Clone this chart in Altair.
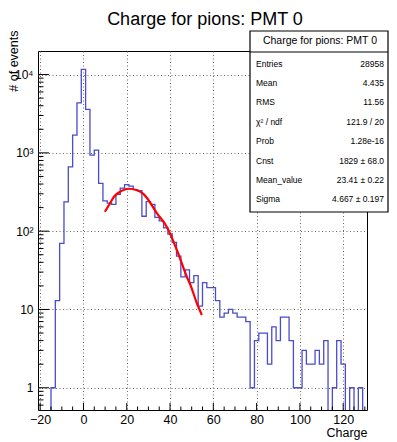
import altair as alt
import pandas as pd

# ---- data ----
bin_centers = list(range(-20, 131, 2))          # bins of width 2, edges at odd numbers
counts = [0, 0, 0, 1, 13, 70, 237, 664, 1690, 4360, 11650, 3600, 937, 1086, 408, 244,
          228, 220, 295, 355, 392, 375, 340, 330, 155, 238, 220, 150, 135, 110, 92, 72, 48,
          26, 32, 22, 27, 11, 22, 19, 19, 13, 8, 9, 10, 9, 8, 8, 7, 1,
          4, 5, 5, 2, 6, 4, 8, 8, 4, 1, 1,
          3, 2, 2, 3, 2, 4, 0, 1, 4, 2, 0, 1, 0, 1, 0]

fit_x = [9.9, 12.6, 14.1, 16.4, 21.0, 24.8, 27.9, 34.0, 38.6, 43.2, 47.8, 49.3, 52.4, 54.7]
fit_y = [177, 235, 275, 312, 348, 333, 295, 169, 112, 57, 26, 21, 12, 8.5]

x_major = [-20, 0, 20, 40, 60, 80, 100, 120]
x_minor = [-15, -10, -5, 5, 10, 15, 25, 30, 35, 45, 50, 55, 65, 70, 75, 85, 90, 95,
           105, 110, 115, 125, 130]
y_major = [1, 10, 100, 1000, 10000]
y_minor = [0.6, 0.7, 0.8, 0.9,
           2, 3, 4, 5, 6, 7, 8, 9,
           20, 30, 40, 50, 60, 70, 80, 90,
           200, 300, 400, 500, 600, 700, 800, 900,
           2000, 3000, 4000, 5000, 6000, 7000, 8000, 9000]

stat_labels = ["Entries", "Mean", "RMS", "χ² / ndf", "Prob", "Cnst", "Mean_value", "Sigma"]
stat_values = ["28958", "4.435", "11.56", "121.9 / 20", "1.28e-16",
               "1829  ± 68.0", "23.41  ± 0.22", "4.667  ± 0.197"]
hist_title = "Charge for pions: PMT 0"

# ---- layout ----
W, H = 329, 359
FONT = "Liberation Sans"

hist_df = pd.DataFrame({"x": bin_centers, "n": counts})
fit_df = pd.DataFrame({"x": fit_x, "y": fit_y})
xmaj_df = pd.DataFrame({"x": x_major})
xmin_df = pd.DataFrame({"x": x_minor})
ymaj_df = pd.DataFrame({"y": y_major})
ymin_df = pd.DataFrame({"y": y_minor})
stats_df = pd.DataFrame({
    "label": stat_labels,
    "value": stat_values,
    "py": [63.5 + 19.4 * i - 51 for i in range(len(stat_labels))],
})
one = pd.DataFrame({"k": [0]})

xs = alt.Scale(domain=[-21, 131], nice=False, zero=False)
ys = alt.Scale(type="log", domain=[0.52, 20000], nice=False)

label_expr = ("datum.value == 1 ? '1' : datum.value == 10 ? '10' : "
              "datum.value == 100 ? '10²' : datum.value == 1000 ? '10³' : '10⁴'")

x_axis = alt.Axis(values=x_major, grid=True, ticks=False, domain=False,
                  labelFontSize=12.5, labelPadding=3, labelFont=FONT,
                  gridColor="#666666", gridDash=[1, 2.5], gridWidth=1,
                  title="Charge", titleFontSize=12.5, titleFont=FONT,
                  titleFontWeight="normal", titleX=W, titleY=26,
                  titleAlign="right", titleBaseline="alphabetic")
y_axis = alt.Axis(values=y_major, grid=True, ticks=False, domain=False,
                  labelExpr=label_expr, labelFontSize=12, labelPadding=5, labelFont=FONT,
                  gridColor="#666666", gridDash=[1, 2.5], gridWidth=1,
                  title="# of events", titleFontSize=12.5, titleFont=FONT,
                  titleFontWeight="normal", titleAngle=270, titleX=-25, titleY=-21,
                  titleAlign="right", titleBaseline="middle")

hist = alt.Chart(hist_df).transform_calculate(
    y="max(datum.n, 0.1)"
).mark_line(interpolate="step", clip=True, color="#4b4bcc", strokeWidth=1.3).encode(
    x=alt.X("x:Q", scale=xs, axis=x_axis),
    y=alt.Y("y:Q", scale=ys, axis=y_axis),
)

fit = alt.Chart(fit_df).mark_line(interpolate="monotone", color="#ff0000", strokeWidth=2.2).encode(
    x=alt.X("x:Q", scale=xs),
    y=alt.Y("y:Q", scale=ys),
)

xt_major = alt.Chart(xmaj_df).mark_rule(color="black", strokeWidth=1).encode(
    x=alt.X("x:Q", scale=xs), y=alt.value(H), y2=alt.value(H - 7))
xt_minor = alt.Chart(xmin_df).mark_rule(color="black", strokeWidth=1).encode(
    x=alt.X("x:Q", scale=xs), y=alt.value(H), y2=alt.value(H - 3.5))
yt_major = alt.Chart(ymaj_df).mark_rule(color="black", strokeWidth=1).encode(
    y=alt.Y("y:Q", scale=ys), x=alt.value(0), x2=alt.value(11))
yt_minor = alt.Chart(ymin_df).mark_rule(color="black", strokeWidth=1).encode(
    y=alt.Y("y:Q", scale=ys), x=alt.value(0), x2=alt.value(5.5))

# main title (page coords minus plot origin 38,51)
main_title = alt.Chart(one).mark_text(
    text=hist_title, font=FONT, fontSize=18, align="center", baseline="alphabetic", color="black"
).encode(x=alt.value(167), y=alt.value(-26))

# stats box
box = alt.Chart(one).mark_rect(fill="white", stroke="black", strokeWidth=1.2).encode(
    x=alt.value(212), x2=alt.value(350), y=alt.value(-20), y2=alt.value(161))
box_sep = alt.Chart(one).mark_rule(color="black", strokeWidth=1).encode(
    x=alt.value(212), x2=alt.value(350), y=alt.value(1))
box_title = alt.Chart(one).mark_text(
    text=hist_title, font=FONT, fontSize=10.5, align="center", baseline="middle", color="black"
).encode(x=alt.value(282), y=alt.value(-10))
stat_lab = alt.Chart(stats_df).mark_text(
    font=FONT, fontSize=8.5, align="left", baseline="middle", color="black"
).encode(x=alt.value(218), y=alt.Y("py:Q", scale=None), text="label:N")
stat_val = alt.Chart(stats_df).mark_text(
    font=FONT, fontSize=8.5, align="right", baseline="middle", color="black"
).encode(x=alt.value(346), y=alt.Y("py:Q", scale=None), text="value:N")

chart = alt.layer(
    hist, fit, xt_major, xt_minor, yt_major, yt_minor, main_title,
    box, box_sep, box_title, stat_lab, stat_val
).properties(
    width=W, height=H,
    autosize=alt.AutoSizeParams(type="none"),
    padding={"left": 30, "top": 43, "right": 22, "bottom": 34},
).configure_view(
    stroke="black", strokeWidth=1
).configure_axis(
    labelColor="black", titleColor="black"
)

chart.save("out.html", embed_options={"renderer": "svg", "actions": False})
